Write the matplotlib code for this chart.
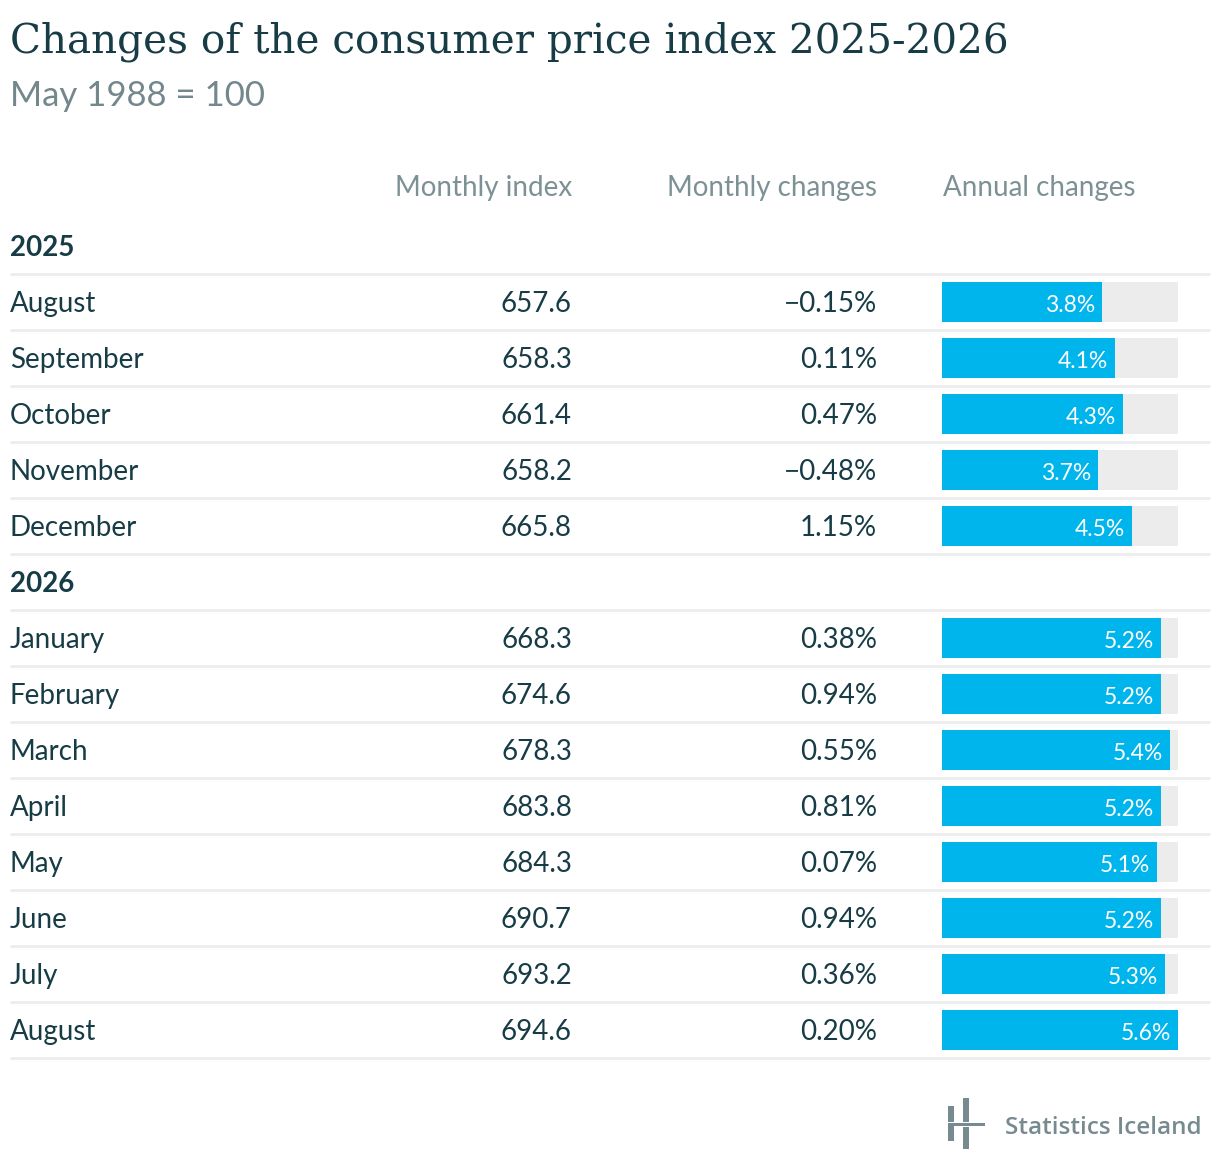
import matplotlib
matplotlib.use("Agg")
import matplotlib.pyplot as plt
from matplotlib.patches import Rectangle

months_2025 = ["August", "September", "October", "November", "December"]
index_2025 = [657.6, 658.3, 661.4, 658.2, 665.8]
monthly_2025 = [-0.15, 0.11, 0.47, -0.48, 1.15]
annual_2025 = [3.8, 4.1, 4.3, 3.7, 4.5]

months_2026 = ["January", "February", "March", "April", "May", "June", "July", "August"]
index_2026 = [668.3, 674.6, 678.3, 683.8, 684.3, 690.7, 693.2, 694.6]
monthly_2026 = [0.38, 0.94, 0.55, 0.81, 0.07, 0.94, 0.36, 0.20]
annual_2026 = [5.2, 5.2, 5.4, 5.2, 5.1, 5.2, 5.3, 5.6]

years = ["2025", "2026"]
headers = ["Monthly index", "Monthly changes", "Annual changes"]

DARK = "#173c46"
GREY = "#7d9195"
BLUE = "#00b4ec"
BG = "#ececec"
LINE = "#ececec"

W, H = 1220, 1174
fig = plt.figure(figsize=(W / 100, H / 100), dpi=100)
ax = fig.add_axes([0, 0, 1, 1])
ax.set_xlim(0, W)
ax.set_ylim(H, 0)
ax.axis("off")

# bar column gets its own axes so bar lengths come from the data scale
bar_x0, bar_x1 = 942, 1178
vmax = max(annual_2025 + annual_2026)
axb = fig.add_axes([bar_x0 / W, 0, (bar_x1 - bar_x0) / W, 1])
axb.set_xlim(0, vmax)
axb.set_ylim(H, 0)
axb.axis("off")

ax.text(10, 52, "Changes of the consumer price index 2025-2026", fontsize=29.2,
        family="DejaVu Serif", color=DARK, va="baseline")
ax.text(10, 106, "May 1988 = 100", fontsize=25, family="Lato",
        color="#73878c", va="baseline")

fs = 20
ax.text(572, 196, headers[0], fontsize=fs, family="Lato", color=GREY, ha="right", va="baseline")
ax.text(877, 196, headers[1], fontsize=fs, family="Lato", color=GREY, ha="right", va="baseline")
ax.text(943, 196, headers[2], fontsize=fs, family="Lato", color=GREY, ha="left", va="baseline")


def fmt_pct(v):
    s = f"{abs(v):.2f}%"
    return ("\u2212" + s) if v < 0 else s


row_h = 56
y = 246
groups = [(years[0], months_2025, index_2025, monthly_2025, annual_2025),
          (years[1], months_2026, index_2026, monthly_2026, annual_2026)]
for year, months, idx, mon, ann in groups:
    ax.text(10, y + 10, year, fontsize=fs, family="Lato", weight="bold", color=DARK, va="baseline")
    ax.plot([10, 1210], [y + 28, y + 28], color=LINE, lw=2, solid_capstyle="butt")
    y += row_h
    for m, i, c, a in zip(months, idx, mon, ann):
        ax.text(10, y + 10, m, fontsize=fs, family="Lato", color=DARK, va="baseline")
        ax.text(572, y + 10, f"{i:.1f}", fontsize=fs, family="Lato", color=DARK, ha="right", va="baseline")
        ax.text(877, y + 10, fmt_pct(c), fontsize=fs, family="Lato", color=DARK, ha="right", va="baseline")
        axb.barh(y, vmax, height=40, color=BG, lw=0)
        axb.barh(y, a, height=40, color=BLUE, lw=0)
        axb.annotate(f"{a:.1f}%", (a, y + 9.5), xytext=(-7, 0), textcoords="offset pixels",
                     fontsize=16.5, family="Lato", color="white", ha="right", va="baseline")
        ax.plot([10, 1210], [y + 28, y + 28], color=LINE, lw=2, solid_capstyle="butt")
        y += row_h

# Statistics Iceland logo
LOGO = "#768a8f"
for (x0, y0, w, h) in [(948, 1106, 6, 16), (948, 1125, 6, 16), (963, 1098, 6, 24),
                       (963, 1127, 6, 22), (948, 1123, 37, 3)]:
    ax.add_patch(Rectangle((x0, y0), w, h, color=LOGO, lw=0))
ax.text(1005, 1134, "Statistics Iceland", fontsize=17.5, family="Open Sans", weight="semibold",
        color=LOGO, va="baseline")

fig.savefig("out.png", dpi=100)
